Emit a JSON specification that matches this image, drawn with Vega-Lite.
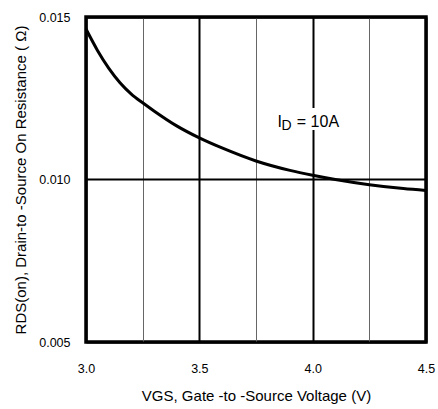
{
  "$schema": "https://vega.github.io/schema/vega-lite/v6.json",
  "width": 340,
  "height": 325,
  "autosize": "none",
  "padding": {"left": 86, "top": 17, "right": 12, "bottom": 67},
  "config": {
    "font": "Liberation Sans",
    "view": {"stroke": "black", "strokeWidth": 3.5},
    "axis": {"labelFont": "Liberation Sans", "titleFont": "Liberation Sans", "labelColor": "black", "titleColor": "black", "titleFontWeight": "normal", "labelFlush": false}
  },
  "datasets": {
    "curve": [
      {"v": 3.0, "r": 0.01463},
      {"v": 3.05, "r": 0.01398},
      {"v": 3.1, "r": 0.01343},
      {"v": 3.15, "r": 0.01298},
      {"v": 3.2, "r": 0.01263},
      {"v": 3.25, "r": 0.01236},
      {"v": 3.3, "r": 0.01211},
      {"v": 3.4, "r": 0.01165},
      {"v": 3.5, "r": 0.01128},
      {"v": 3.6, "r": 0.01097},
      {"v": 3.75, "r": 0.01057},
      {"v": 3.9, "r": 0.01028},
      {"v": 4.0, "r": 0.01013},
      {"v": 4.1, "r": 0.01000},
      {"v": 4.25, "r": 0.00984},
      {"v": 4.4, "r": 0.00972},
      {"v": 4.5, "r": 0.00966}
    ],
    "box": [{"v1": 3.985, "v2": 4.015, "r1": 0.011523, "r2": 0.0122}],
    "label": [
      {"v": 3.845, "r": 0.011625, "t": "I"},
      {"v": 3.93, "r": 0.011625, "t": "= 10A"}
    ],
    "sub": [{"v": 3.863, "r": 0.011523, "t": "D"}]
  },
  "layer": [
    {
      "data": {"name": "curve"},
      "mark": {"type": "line", "color": "black", "strokeWidth": 3, "interpolate": "monotone"},
      "encoding": {
        "x": {
          "field": "v", "type": "quantitative",
          "scale": {"domain": [3, 4.5], "nice": false, "zero": false},
          "axis": {
            "values": [3, 3.25, 3.5, 3.75, 4, 4.25, 4.5],
            "grid": true,
            "gridColor": {"condition": {"test": "datum.value % 0.5 === 0", "value": "black"}, "value": "#666666"},
            "gridWidth": {"condition": {"test": "datum.value % 0.5 === 0", "value": 2}, "value": 1},
            "gridOpacity": 1,
            "labelExpr": "datum.value % 0.5 === 0 ? format(datum.value, '.1f') : ''",
            "labelOverlap": false,
            "ticks": false,
            "domain": false,
            "labelPadding": 20,
            "labelFontSize": 12.5,
            "title": "VGS, Gate -to -Source Voltage  (V)",
            "titleFontSize": 15,
            "titlePadding": 14
          }
        },
        "y": {
          "field": "r", "type": "quantitative",
          "scale": {"domain": [0.005, 0.015], "nice": false, "zero": false},
          "axis": {
            "values": [0.005, 0.01, 0.015],
            "format": ".3f",
            "grid": true,
            "gridColor": "black",
            "gridWidth": 2,
            "gridOpacity": 1,
            "ticks": false,
            "domain": false,
            "labelPadding": 16,
            "labelFontSize": 12.5,
            "title": "RDS(on),  Drain-to -Source On Resistance ( Ω)",
            "titleFontSize": 15,
            "titlePadding": 10
          }
        }
      }
    },
    {
      "data": {"name": "box"},
      "mark": {"type": "rect", "color": "white"},
      "encoding": {
        "x": {"field": "v1", "type": "quantitative"},
        "x2": {"field": "v2"},
        "y": {"field": "r1", "type": "quantitative"},
        "y2": {"field": "r2"}
      }
    },
    {
      "data": {"name": "label"},
      "mark": {"type": "text", "align": "left", "baseline": "alphabetic", "fontSize": 16, "color": "black"},
      "encoding": {
        "x": {"field": "v", "type": "quantitative"},
        "y": {"field": "r", "type": "quantitative"},
        "text": {"field": "t"}
      }
    },
    {
      "data": {"name": "sub"},
      "mark": {"type": "text", "align": "left", "baseline": "alphabetic", "fontSize": 14, "color": "black"},
      "encoding": {
        "x": {"field": "v", "type": "quantitative"},
        "y": {"field": "r", "type": "quantitative"},
        "text": {"field": "t"}
      }
    }
  ]
}
